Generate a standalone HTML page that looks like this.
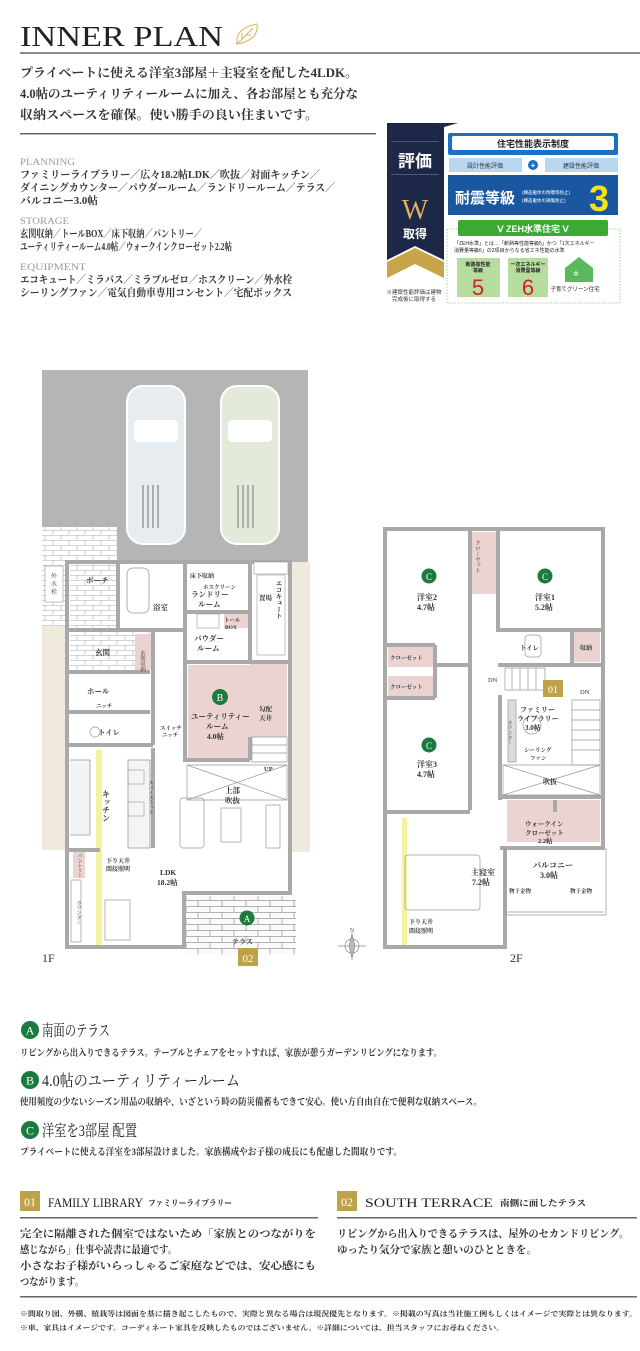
<!DOCTYPE html>
<html><head><meta charset="utf-8"><style>
html,body{margin:0;padding:0;background:#fff;}
svg{display:block;}
.s{font-family:"Liberation Serif","Noto Serif CJK SC",serif;}
.g{font-family:"Liberation Sans","Noto Sans CJK JP",sans-serif;}
</style></head><body>
<svg width="640" height="1351" viewBox="0 0 640 1351" xmlns="http://www.w3.org/2000/svg">
<defs>
<pattern id="brick" width="24" height="12" patternUnits="userSpaceOnUse">
<rect width="24" height="12" fill="#fafafa"/>
<path d="M0 0.5H24M0 6.5H24M6 0V6M18 6V12" stroke="#9a9a9a" stroke-width="0.8" fill="none"/>
</pattern>
<pattern id="tile" width="16" height="10" patternUnits="userSpaceOnUse">
<rect width="16" height="10" fill="#fff"/>
<path d="M0 0.5H16M0 5.5H16M5 0V5M13 5V10" stroke="#aaa" stroke-width="0.6" fill="none"/>
</pattern>
</defs>

<!-- Title -->
<text x="20" y="46" class="s" font-size="29" fill="#222" textLength="203" lengthAdjust="spacingAndGlyphs">INNER PLAN</text>
<g transform="translate(235,22)" stroke="#d2b35d" fill="none" stroke-width="1">
<path d="M2 22 Q0 6 22 2 Q24 18 2 22Z"/><path d="M2 22 L18 6M7 17 L7 11M11 13 L16 13"/>
</g>
<rect x="20" y="52" width="620" height="2" fill="#8a8a8a"/>

<g class="s" font-weight="bold" fill="#333" font-size="12.5">
<text x="20" y="77" textLength="338" lengthAdjust="spacingAndGlyphs">プライベートに使える洋室3部屋＋主寝室を配した4LDK。</text>
<text x="20" y="98" textLength="338" lengthAdjust="spacingAndGlyphs">4.0帖のユーティリティールームに加え、各お部屋とも充分な</text>
<text x="20" y="119" textLength="298" lengthAdjust="spacingAndGlyphs">収納スペースを確保。使い勝手の良い住まいです。</text>
</g>
<rect x="20" y="133" width="356" height="1.5" fill="#666"/>

<g class="s" font-size="9.5" fill="#999">
<text x="20" y="165" textLength="55" lengthAdjust="spacingAndGlyphs">PLANNING</text>
<text x="20" y="224" textLength="49" lengthAdjust="spacingAndGlyphs">STORAGE</text>
<text x="20" y="270" textLength="66" lengthAdjust="spacingAndGlyphs">EQUIPMENT</text>
</g>
<g class="s" font-size="10.5" fill="#333" font-weight="bold">
<text x="20" y="178" textLength="300" lengthAdjust="spacingAndGlyphs">ファミリーライブラリー／広々18.2帖LDK／吹抜／対面キッチン／</text>
<text x="20" y="191" textLength="315" lengthAdjust="spacingAndGlyphs">ダイニングカウンター／パウダールーム／ランドリールーム／テラス／</text>
<text x="20" y="204" textLength="78" lengthAdjust="spacingAndGlyphs">バルコニー3.0帖</text>
<text x="20" y="237" textLength="182" lengthAdjust="spacingAndGlyphs">玄関収納／トールBOX／床下収納／パントリー／</text>
<text x="20" y="250" textLength="212" lengthAdjust="spacingAndGlyphs">ユーティリティールーム4.0帖／ウォークインクローゼット2.2帖</text>
<text x="20" y="283" textLength="272" lengthAdjust="spacingAndGlyphs">エコキュート／ミラバス／ミラブルゼロ／ホスクリーン／外水栓</text>
<text x="20" y="296" textLength="272" lengthAdjust="spacingAndGlyphs">シーリングファン／電気自動車専用コンセント／宅配ボックス</text>
</g>

<!-- Badge -->
<path d="M387 123H458L444 127V260L415 246L387 260Z" fill="#1d2748"/>
<path d="M387 262L415 248L444 262V278L415 264L387 278Z" fill="#c9a44a"/>
<rect x="391" y="141" width="48" height="0.8" fill="#5a6488"/>
<rect x="391" y="174" width="48" height="0.8" fill="#5a6488"/>
<text x="415" y="167" class="g" font-size="17" font-weight="bold" fill="#fff" text-anchor="middle">評価</text>
<text x="415" y="219" class="s" font-size="28" fill="#d9b456" text-anchor="middle">W</text>
<text x="415" y="238" class="g" font-size="12" font-weight="bold" fill="#fff" text-anchor="middle">取得</text>
<text x="414" y="294" class="g" font-size="5.5" fill="#333" text-anchor="middle">※建設性能評価は建物</text>
<text x="414" y="301" class="g" font-size="5.5" fill="#333" text-anchor="middle">完成後に取得する</text>

<rect x="448" y="133" width="170" height="22" rx="2" fill="#1b6fc4"/>
<rect x="452" y="136" width="162" height="14" rx="2" fill="#fff"/>
<text x="533" y="147" class="g" font-size="9" font-weight="bold" fill="#222" text-anchor="middle">住宅性能表示制度</text>
<rect x="449" y="158" width="73" height="14" fill="#b8d8f0"/>
<rect x="545" y="158" width="73" height="14" fill="#b8d8f0"/>
<circle cx="533" cy="165" r="5" fill="#1b6fc4"/>
<text x="533" y="168" class="g" font-size="8" fill="#fff" text-anchor="middle" font-weight="bold">+</text>
<text x="485" y="168" class="g" font-size="6" fill="#334" text-anchor="middle">設計性能評価</text>
<text x="581" y="168" class="g" font-size="6" fill="#334" text-anchor="middle">建設性能評価</text>
<rect x="448" y="175" width="170" height="40" fill="#1b57a0"/>
<text x="455" y="203" class="g" font-size="15" font-weight="bold" fill="#fff">耐震等級</text>
<text x="522" y="194" class="g" font-size="4.5" fill="#fff">(構造躯体の倒壊等防止)</text>
<text x="522" y="202" class="g" font-size="4.5" fill="#fff">(構造躯体の損傷防止)</text>
<text x="599" y="211" class="g" font-size="36" font-weight="bold" fill="#f4e21a" text-anchor="middle">3</text>
<rect x="447" y="229" width="173" height="74" fill="none" stroke="#8cc88c" stroke-width="0.8" stroke-dasharray="1.5,1.5"/>
<rect x="458" y="220" width="150" height="16" rx="2" fill="#3aaa35"/>
<text x="533" y="232" class="g" font-size="9" font-weight="bold" fill="#fff" text-anchor="middle">ᐯ ZEH水準住宅 ᐯ</text>
<text x="454" y="245" class="g" font-size="5" fill="#222">「ZEH水準」とは…「断熱等性能等級5」かつ「1次エネルギー</text>
<text x="454" y="252" class="g" font-size="5" fill="#222">消費量等級6」の2項目からなる省エネ性能の水準</text>
<rect x="457" y="258" width="43" height="39" fill="#b6dca0"/>
<rect x="508" y="258" width="40" height="39" fill="#b6dca0"/>
<text x="478" y="266" class="g" font-size="5" fill="#222" text-anchor="middle" font-weight="bold">断熱等性能</text>
<text x="478" y="272" class="g" font-size="5" fill="#222" text-anchor="middle" font-weight="bold">等級</text>
<text x="528" y="266" class="g" font-size="5" fill="#222" text-anchor="middle" font-weight="bold">一次エネルギー</text>
<text x="528" y="272" class="g" font-size="5" fill="#222" text-anchor="middle" font-weight="bold">消費量等級</text>
<text x="478" y="295" class="g" font-size="22" fill="#d42020" text-anchor="middle">5</text>
<text x="528" y="295" class="g" font-size="22" fill="#d42020" text-anchor="middle">6</text>
<path d="M565 268L579 257L593 268V282H565Z" fill="#5cb85c"/>
<text x="573" y="276" class="g" font-size="7" fill="#fff">✲</text>
<text x="575" y="291" class="g" font-size="5.5" fill="#222" text-anchor="middle">子育てグリーン住宅</text>

<!-- ============ 1F ============ -->
<rect x="42" y="370" width="266" height="192" fill="#b5b5b5"/>
<rect x="42" y="527" width="75" height="35" fill="url(#tile)"/>
<g>
<rect x="127" y="386" width="58" height="158" rx="16" fill="#e6ecef" stroke="#fff" stroke-width="2"/>
<rect x="134" y="420" width="44" height="22" rx="4" fill="#fff"/>
<path d="M143 485V528M148 485V528M153 485V528M158 485V528" stroke="#999" stroke-width="1.5"/>
<rect x="221" y="386" width="58" height="158" rx="16" fill="#e4ead9" stroke="#fff" stroke-width="2"/>
<rect x="228" y="420" width="44" height="22" rx="4" fill="#fff"/>
<path d="M238 485V528M243 485V528M248 485V528M253 485V528" stroke="#999" stroke-width="1.5"/>
</g>
<rect x="42" y="562" width="25" height="288" fill="#efeadb"/>
<rect x="290" y="562" width="20" height="290" fill="#efeadb"/>
<rect x="42" y="562" width="25" height="64" fill="url(#tile)"/>
<rect x="45" y="566" width="18" height="36" fill="#fff" stroke="#999" stroke-width="0.6"/>
<text x="54" y="578" class="s" font-size="6" fill="#333" text-anchor="middle">外</text>
<text x="54" y="586" class="s" font-size="6" fill="#333" text-anchor="middle">水</text>
<text x="54" y="594" class="s" font-size="6" fill="#333" text-anchor="middle">栓</text>
<rect x="67" y="562" width="223" height="385" fill="#fff"/>
<rect x="70" y="565" width="48" height="63" fill="url(#tile)"/>
<rect x="70" y="632" width="80" height="38" fill="url(#tile)"/>
<rect x="186" y="896" width="110" height="58" fill="url(#brick)"/>
<path d="M188 665H250V662H287V737H250V760H188Z" fill="#ead3d1"/>
<rect x="135" y="634" width="16" height="36" fill="#ead3d1"/>
<rect x="224" y="614" width="24" height="14" fill="#ead3d1"/>
<rect x="73" y="850" width="12" height="28" fill="#ead3d1"/>
<rect x="96" y="750" width="6" height="196" fill="#f7f0a0"/>
<g stroke="#a9a9a9" stroke-width="4" fill="none">
<path d="M67 562V947H184V893H290V562Z"/>
<path d="M118 562V628M67 630H185M153 630V745M185 562V760H250M187 612H250M250 562V662M185 662H290M67 672H150M67 712H150M67 745H153M250 737V760"/>
<path d="M153 748V848M67 850H100"/>
</g>
<path d="M70 760H90V835H70" stroke="#999" fill="#f3f3f3" stroke-width="0.8"/>
<path d="M128 760H150V848H128Z" fill="#f4f4f4" stroke="#999" stroke-width="0.8"/>
<rect x="128" y="770" width="16" height="14" fill="none" stroke="#999" stroke-width="0.6"/>
<rect x="128" y="802" width="16" height="14" fill="none" stroke="#999" stroke-width="0.6"/>
<rect x="127" y="568" width="22" height="45" rx="6" fill="#fff" stroke="#999" stroke-width="0.8"/>
<rect x="197" y="614" width="22" height="14" fill="#fff" stroke="#999" stroke-width="0.6"/>
<rect x="257" y="575" width="28" height="80" fill="#fff" stroke="#999" stroke-width="0.6"/>
<rect x="254" y="562" width="34" height="12" fill="#fff" stroke="#999" stroke-width="0.6"/>
<g stroke="#999" stroke-width="0.7" fill="none">
<path d="M252 737H287V762H252ZM252 745H287M252 753H287"/>
<path d="M187 765H287V800H187ZM187 765L287 800M287 765L187 800"/>
<rect x="180" y="798" width="24" height="50" rx="3"/>
<rect x="221" y="808" width="20" height="34"/>
<rect x="266" y="805" width="14" height="43"/>
<rect x="105" y="900" width="25" height="40"/>
<rect x="71" y="880" width="10" height="62"/>
</g>
<circle cx="95" cy="732" r="5" fill="#fff" stroke="#999" stroke-width="0.7"/>
<g class="s" font-size="7.5" fill="#333" font-weight="bold">
<text x="86" y="583">ポーチ</text>
<text x="153" y="610">浴室</text>
<text x="191" y="597">ランドリー</text>
<text x="198" y="607">ルーム</text>
<text x="190" y="578" font-size="6">床下収納</text>
<text x="203" y="589" font-size="5.5">ホスクリーン</text>
<text x="194" y="641">パウダー</text>
<text x="197" y="651">ルーム</text>
<text x="224" y="622" font-size="5.5">トール</text>
<text x="225" y="629" font-size="5.5">BOX</text>
<text x="95" y="655">玄関</text>
<text x="87" y="694">ホール</text>
<text x="96" y="708" font-size="5.5">ニッチ</text>
<text x="98" y="735">トイレ</text>
<text x="160" y="730" font-size="5.5">スイッチ</text>
<text x="162" y="737" font-size="5.5">ニッチ</text>
<text x="191" y="719">ユーティリティー</text>
<text x="206" y="729">ルーム</text>
<text x="207" y="739">4.0帖</text>
<text x="259" y="711" font-size="6.5">勾配</text>
<text x="259" y="720" font-size="6.5">天井</text>
<text x="264" y="771" font-size="6.5">UP</text>
<text x="225" y="793">上部</text>
<text x="225" y="803">吹抜</text>
<text x="160" y="875">LDK</text>
<text x="157" y="885">18.2帖</text>
<text x="106" y="863" font-size="6">下り天井</text>
<text x="106" y="871" font-size="6">間接照明</text>
<text x="232" y="944" font-size="7">テラス</text>
<text x="259" y="600" font-size="6.5">置場</text>
</g>
<text x="106" y="790" class="s" font-size="8" font-weight="bold" fill="#333" writing-mode="tb">キッチン</text>
<text x="278" y="580" class="s" font-size="6.5" font-weight="bold" fill="#333" writing-mode="tb">エコキュート</text>
<text x="142" y="650" class="s" font-size="5.5" fill="#333" writing-mode="tb">玄関収納</text>
<text x="150" y="780" class="s" font-size="5" fill="#333" writing-mode="tb">スパイスラック</text>
<text x="79" y="853" class="s" font-size="5" fill="#333" writing-mode="tb">パントリー</text>
<text x="78" y="900" class="s" font-size="5" fill="#333" writing-mode="tb">カウンター</text>
<circle cx="220" cy="697" r="8" fill="#1b7a3e"/>
<text x="220" y="701" class="s" font-size="10" fill="#fff" text-anchor="middle">B</text>
<circle cx="247" cy="918" r="7.5" fill="#1b7a3e"/>
<text x="247" y="922" class="s" font-size="9" fill="#fff" text-anchor="middle">A</text>
<rect x="238" y="948" width="20" height="18" fill="#bda24a"/>
<text x="248" y="962" class="s" font-size="11" fill="#fff" text-anchor="middle">02</text>
<text x="42" y="962" class="s" font-size="12" fill="#333">1F</text>

<g transform="translate(352,946)" stroke="#888" stroke-width="0.7" fill="none">
<circle r="7"/><path d="M0 -14V14M-14 0H14"/><path d="M0 -12L3 0L0 12L-3 0Z" fill="#bbb"/>
</g>
<text x="352" y="932" class="s" font-size="6" fill="#555" text-anchor="middle">N</text>

<!-- ============ 2F ============ -->
<rect x="383" y="527" width="222" height="421" fill="#fff"/>
<rect x="472" y="532" width="25" height="62" fill="#ead3d1"/>
<rect x="573" y="632" width="27" height="30" fill="#ead3d1"/>
<rect x="388" y="647" width="47" height="20" fill="#ead3d1"/>
<rect x="388" y="676" width="47" height="20" fill="#ead3d1"/>
<rect x="507" y="800" width="93" height="42" fill="#ead3d1"/>
<rect x="402" y="818" width="5" height="127" fill="#f7f0a0"/>
<g stroke="#a9a9a9" stroke-width="4" fill="none">
<path d="M385 529H603V848H505V947H385Z"/>
<path d="M470 529V810M385 645H435M385 698H435M435 645V698M470 665H435M385 812H470M498 529V630H603M498 665H603M572 630V665M500 695V800M500 797H603M500 848H603M555 800V812"/>
</g>
<g stroke="#999" stroke-width="0.7" fill="none">
<path d="M505 848V915H606V848"/><path d="M507 912H604"/>
<rect x="405" y="855" width="75" height="55" rx="3"/>
<path d="M505 668H545V690H505ZM512 668V690M520 668V690M528 668V690M536 668V690"/>
<path d="M572 700H600V765H572ZM572 710H600M572 720H600M572 730H600M572 740H600M572 750H600"/>
<path d="M503 765H600V795H503ZM503 765L600 795M600 765L503 795"/>
<rect x="508" y="700" width="8" height="62" fill="#ddd"/>
<rect x="525" y="635" width="16" height="22" rx="4"/>
<circle cx="532" cy="725" r="9"/>
</g>
<g class="s" font-size="8" fill="#333" font-weight="bold">
<text x="417" y="600">洋室2</text><text x="417" y="610">4.7帖</text>
<text x="535" y="600">洋室1</text><text x="535" y="610">5.2帖</text>
<text x="417" y="767">洋室3</text><text x="417" y="777">4.7帖</text>
<text x="471" y="875">主寝室</text><text x="472" y="885">7.2帖</text>
<text x="533" y="868">バルコニー</text><text x="540" y="878">3.0帖</text>
<text x="520" y="712" font-size="7">ファミリー</text>
<text x="517" y="721" font-size="7">ライブラリー</text>
<text x="525" y="730" font-size="7">3.0帖</text>
<text x="543" y="784" font-size="7">吹抜</text>
<text x="525" y="826" font-size="6.5">ウォークイン</text>
<text x="525" y="835" font-size="6.5">クローゼット</text>
<text x="538" y="843" font-size="6.5">2.2帖</text>
<text x="520" y="650" font-size="6.5">トイレ</text>
<text x="580" y="650" font-size="6">収納</text>
<text x="390" y="660" font-size="5.5">クローゼット</text>
<text x="390" y="689" font-size="5.5">クローゼット</text>
<text x="488" y="682" font-size="6.5" font-weight="normal">DN</text>
<text x="580" y="694" font-size="6.5" font-weight="normal">DN</text>
<text x="524" y="752" font-size="5.5">シーリング</text>
<text x="530" y="760" font-size="5.5">ファン</text>
<text x="509" y="893" font-size="5.5">物干金物</text>
<text x="570" y="893" font-size="5.5">物干金物</text>
<text x="409" y="924" font-size="6">下り天井</text>
<text x="409" y="933" font-size="6">間接照明</text>
</g>
<text x="477" y="540" class="s" font-size="5.5" fill="#333" writing-mode="tb">クローゼット</text>
<text x="509" y="720" class="s" font-size="5" fill="#333" writing-mode="tb">カウンター</text>
<g class="s" fill="#fff" text-anchor="middle" font-size="9">
<circle cx="429" cy="576" r="7.5" fill="#1b7a3e"/><text x="429" y="580">C</text>
<circle cx="545" cy="576" r="7.5" fill="#1b7a3e"/><text x="545" y="580">C</text>
<circle cx="429" cy="745" r="7.5" fill="#1b7a3e"/><text x="429" y="749">C</text>
</g>
<rect x="543" y="680" width="20" height="17" fill="#bda24a"/>
<text x="553" y="693" class="s" font-size="10" fill="#fff" text-anchor="middle">01</text>
<text x="510" y="962" class="s" font-size="12" fill="#333">2F</text>

<!-- ============ Bottom ============ -->
<g class="s">
<circle cx="30" cy="1030" r="9" fill="#1b7a3e"/><text x="30" y="1034.5" font-size="12" fill="#fff" text-anchor="middle">A</text>
<text x="42" y="1036" font-size="16" fill="#222" textLength="68" lengthAdjust="spacingAndGlyphs">南面のテラス</text>
<text x="20" y="1056" font-size="9.5" fill="#333" font-weight="bold" textLength="422" lengthAdjust="spacingAndGlyphs">リビングから出入りできるテラス。テーブルとチェアをセットすれば、家族が憩うガーデンリビングになります。</text>
<circle cx="30" cy="1080" r="9" fill="#1b7a3e"/><text x="30" y="1084.5" font-size="12" fill="#fff" text-anchor="middle">B</text>
<text x="42" y="1086" font-size="16" fill="#222" textLength="198" lengthAdjust="spacingAndGlyphs">4.0帖のユーティリティールーム</text>
<text x="20" y="1105" font-size="9.5" fill="#333" font-weight="bold" textLength="462" lengthAdjust="spacingAndGlyphs">使用頻度の少ないシーズン用品の収納や、いざという時の防災備蓄もできて安心。使い方自由自在で便利な収納スペース。</text>
<circle cx="30" cy="1130" r="9" fill="#1b7a3e"/><text x="30" y="1134.5" font-size="12" fill="#fff" text-anchor="middle">C</text>
<text x="42" y="1136" font-size="16" fill="#222" textLength="95" lengthAdjust="spacingAndGlyphs">洋室を3部屋 配置</text>
<text x="20" y="1155" font-size="9.5" fill="#333" font-weight="bold" textLength="382" lengthAdjust="spacingAndGlyphs">プライベートに使える洋室を3部屋設けました。家族構成やお子様の成長にも配慮した間取りです。</text>

<rect x="20" y="1191" width="20" height="20" fill="#bda24a"/>
<text x="30" y="1206" font-size="12" fill="#fff" text-anchor="middle">01</text>
<text x="48" y="1207" font-size="13" fill="#222" textLength="95" lengthAdjust="spacingAndGlyphs">FAMILY LIBRARY</text>
<text x="148" y="1206" font-size="8.5" fill="#222" font-weight="bold" textLength="84" lengthAdjust="spacingAndGlyphs">ファミリーライブラリー</text>
<rect x="20" y="1217" width="298" height="1.5" fill="#666"/>
<rect x="337" y="1191" width="20" height="20" fill="#bda24a"/>
<text x="347" y="1206" font-size="12" fill="#fff" text-anchor="middle">02</text>
<text x="365" y="1207" font-size="13" fill="#222" textLength="128" lengthAdjust="spacingAndGlyphs">SOUTH TERRACE</text>
<text x="500" y="1206" font-size="8.5" fill="#222" font-weight="bold" textLength="86" lengthAdjust="spacingAndGlyphs">南側に面したテラス</text>
<rect x="337" y="1217" width="300" height="1.5" fill="#666"/>

<g font-size="10.5" fill="#333" font-weight="bold">
<text x="20" y="1237" textLength="296" lengthAdjust="spacingAndGlyphs">完全に隔離された個室ではないため「家族とのつながりを</text>
<text x="20" y="1253" textLength="157" lengthAdjust="spacingAndGlyphs">感じながら」仕事や読書に最適です。</text>
<text x="20" y="1269" textLength="296" lengthAdjust="spacingAndGlyphs">小さなお子様がいらっしゃるご家庭などでは、安心感にも</text>
<text x="20" y="1285" textLength="64" lengthAdjust="spacingAndGlyphs">つながります。</text>
<text x="337" y="1237" textLength="292" lengthAdjust="spacingAndGlyphs">リビングから出入りできるテラスは、屋外のセカンドリビング。</text>
<text x="337" y="1253" textLength="200" lengthAdjust="spacingAndGlyphs">ゆったり気分で家族と憩いのひとときを。</text>
</g>
<rect x="20" y="1296" width="617" height="1.5" fill="#666"/>
<g font-size="7" fill="#333" font-weight="bold">
<text x="20" y="1316" textLength="617" lengthAdjust="spacingAndGlyphs">※間取り図、外構、植栽等は図面を基に描き起こしたもので、実際と異なる場合は現況優先となります。※掲載の写真は当社施工例もしくはイメージで実際とは異なります。</text>
<text x="20" y="1330" textLength="484" lengthAdjust="spacingAndGlyphs">※車、家具はイメージです。コーディネート家具を反映したものではございません。※詳細については、担当スタッフにお尋ねください。</text>
</g>
</g>
</svg>
</body></html>
